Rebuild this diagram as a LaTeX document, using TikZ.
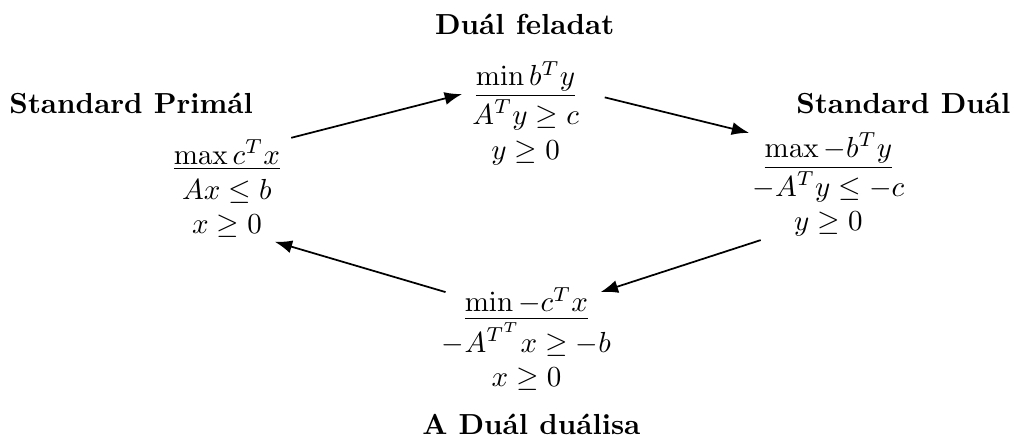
\documentclass[tikz,border=0pt]{standalone}
\usepackage{amsmath,amssymb}
\usepackage{tikz}
\usetikzlibrary{arrows.meta,positioning}

\begin{document}
\begin{tikzpicture}[>={Latex[length=6pt,width=4.5pt]},
    feladat/.style={align=center},
    cim/.style={font=\bfseries}]

  \useasboundingbox (0,0) rectangle (12.29,-5.39);

  % Define nodes
  \node[feladat] (Pr) at (2.75,-2.29) {$\underline{\max c^Tx}$\\ $Ax\le b$\\ $x\ge 0$};
  \node[feladat] (Du) at (6.37,-1.37) {$\underline{\min b^Ty}$\\ $A^Ty\ge c$\\ $y\ge 0$};
  \node[feladat] (SDu) at (10.04,-2.24) {$\underline{\max -b^Ty}$\\ $-A^Ty\le -c$\\ $y\ge 0$};
  \node[feladat] (DD) at (6.38,-4.11) {$\underline{\min -c^Tx}$\\ $-A^{T^T}x\ge -b$\\ $x\ge 0$};

  % Titles
  \node[cim] (PrT) at (1.59,-1.25) {Standard Primál};
  \node[cim] (DuT) at (6.36,-0.30) {Duál feladat};
  \node[cim] (SDuT) at (10.95,-1.25) {Standard Duál};
  \node[cim] (DDT) at (6.44,-5.14) {A Duál duálisa};

  % Draw arrows
  \draw[->, semithick] ([shift={(0.78,0.62)}]Pr.center) -- ([shift={(-0.77,0.23)}]Du.center);
  \draw[->, semithick] ([shift={(0.96,0.19)}]Du.center) -- ([shift={(-0.96,0.63)}]SDu.center);
  \draw[->, semithick] ([shift={(-0.82,-0.67)}]SDu.center) -- ([shift={(0.90,0.57)}]DD.center);
  \draw[->, semithick] ([shift={(-0.98,0.57)}]DD.center) -- ([shift={(0.58,-0.64)}]Pr.center);
\end{tikzpicture}
\end{document}
